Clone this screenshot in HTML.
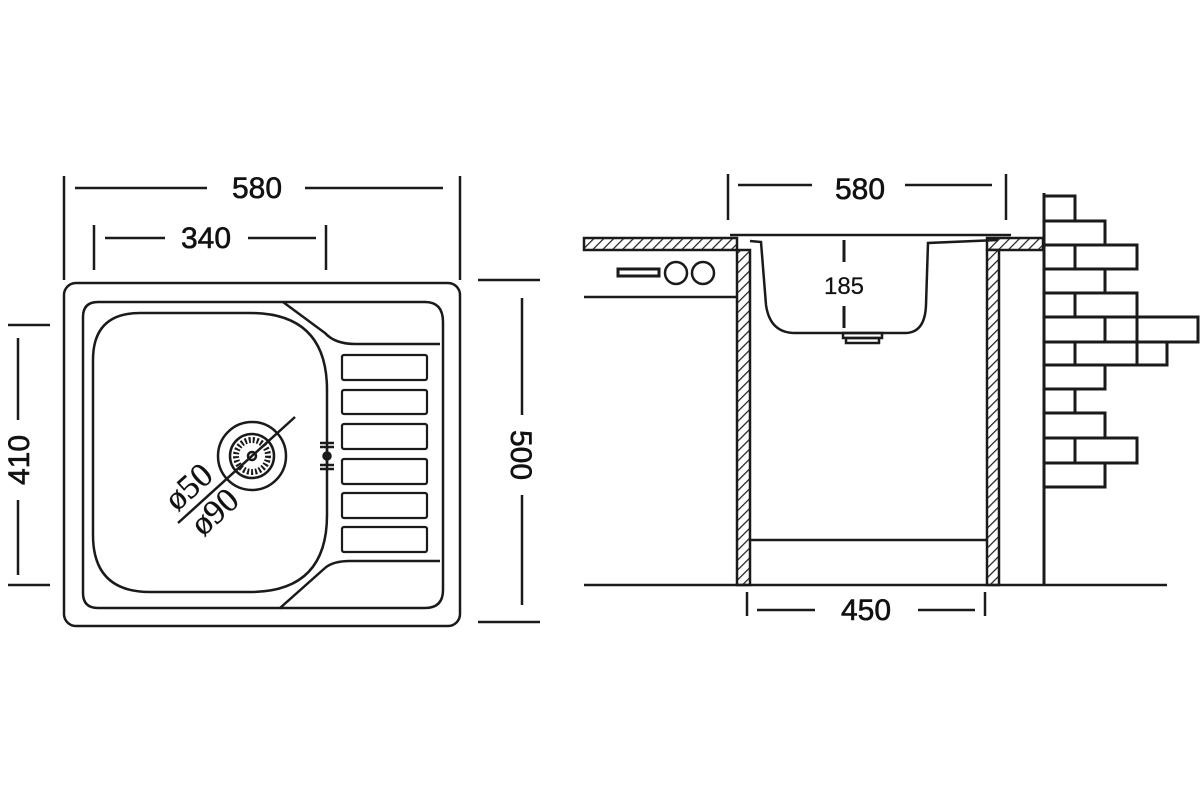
<!DOCTYPE html>
<html><head><meta charset="utf-8"><style>html,body{margin:0;padding:0;background:#fff}svg{display:block}</style></head><body>
<svg width="1200" height="800" viewBox="0 0 1200 800" xmlns="http://www.w3.org/2000/svg">
<defs>
<pattern id="h" width="7" height="7" patternUnits="userSpaceOnUse" patternTransform="rotate(45)">
<rect width="7" height="7" fill="#fff"/><line x1="0" y1="0" x2="0" y2="7" stroke="#222" stroke-width="2.5"/></pattern>
</defs>
<g fill="none" stroke="#1a1a1a" stroke-width="2.5">
<rect x="64" y="283" width="396" height="343" rx="12"/>
<path d="M283,302 L98,302 Q83,302 83,317 L83,593 Q83,608 98,608 L280,608 L325,568 Q333,561 350,561 L440,561"/>
<path d="M283,302 L425,302 Q443,302 443,322 L443,590 Q443,608 425,608 L280,608"/>
<path d="M283,302 L325,333 Q335,344 355,344 L440,344"/>
<path d="M140,313 L250,313 Q327,313 327,390 L327,515 Q327,592 250,592 L150,592 Q93,592 93,535 L93,360 Q93,313 140,313 Z"/>
<g stroke-width="2.2">
<rect x="342" y="355" width="85" height="25" rx="2"/>
<rect x="342" y="390" width="85" height="24" rx="2"/>
<rect x="342" y="424" width="85" height="25" rx="2"/>
<rect x="342" y="459" width="85" height="25" rx="2"/>
<rect x="342" y="493" width="85" height="25" rx="2"/>
<rect x="342" y="527" width="85" height="25" rx="2"/>
</g>
<circle cx="252" cy="456" r="34"/>
<circle cx="252" cy="456" r="22"/>
<circle cx="252" cy="456" r="16" stroke-width="6" stroke-dasharray="2 2"/>
<circle cx="252" cy="456" r="4"/>
<line x1="178" y1="523" x2="295" y2="417"/>
<line x1="320" y1="443" x2="334" y2="443"/><line x1="320" y1="447" x2="334" y2="447"/>
<line x1="320" y1="465" x2="334" y2="465"/><line x1="320" y1="469" x2="334" y2="469"/>
<line x1="327" y1="447" x2="327" y2="465"/>
<circle cx="327" cy="456" r="3.5" fill="#1a1a1a"/>
<line x1="64" y1="176" x2="64" y2="280"/><line x1="460" y1="176" x2="460" y2="280"/>
<line x1="75" y1="188" x2="207" y2="188"/><line x1="305" y1="188" x2="443" y2="188"/>
<line x1="94" y1="225" x2="94" y2="270"/><line x1="326" y1="225" x2="326" y2="270"/>
<line x1="105" y1="238" x2="165" y2="238"/><line x1="248" y1="238" x2="316" y2="238"/>
<line x1="8" y1="325" x2="50" y2="325"/><line x1="8" y1="585" x2="50" y2="585"/>
<line x1="18" y1="338" x2="18" y2="420"/><line x1="18" y1="500" x2="18" y2="575"/>
<line x1="478" y1="280" x2="540" y2="280"/><line x1="478" y1="622" x2="540" y2="622"/>
<line x1="522" y1="298" x2="522" y2="415"/><line x1="522" y1="495" x2="522" y2="605"/>
</g>
<g font-family="Liberation Sans, sans-serif" font-size="30" fill="#111" stroke="#111" stroke-width="0.6" text-anchor="middle">
<text x="257" y="198">580</text>
<text x="206" y="248">340</text>
<text transform="translate(29,460) rotate(-90)">410</text>
<text transform="translate(511,455) rotate(90)">500</text>
<text transform="translate(196,495) rotate(-42)" font-family="Liberation Serif, serif" font-size="34" stroke-width="0.3">ø50</text>
<text transform="translate(222,520) rotate(-42)" font-family="Liberation Serif, serif" font-size="34" stroke-width="0.3">ø90</text>
<text x="860" y="199">580</text>
<text x="866" y="620">450</text>
<text x="844" y="294" font-size="24" stroke-width="0.2">185</text>
</g>
<g stroke="#1a1a1a" stroke-width="2.5">
<rect x="584" y="238" width="153" height="12" fill="url(#h)"/>
<rect x="987" y="238" width="56" height="12" fill="url(#h)"/>
<rect x="737" y="250" width="13" height="335" fill="url(#h)"/>
<rect x="987" y="250" width="12" height="335" fill="url(#h)"/>
<g fill="none">
<line x1="730" y1="235" x2="1011" y2="235"/>
<path d="M750,241 L761,242 L766,305 Q770,333 795,333 L905,333 Q925,333 926,305 L928,243 L998,240"/>
<rect x="843" y="333" width="39" height="5"/><rect x="846" y="338" width="33" height="5"/>
<line x1="844" y1="240" x2="844" y2="262" stroke-width="3"/><line x1="844" y1="306" x2="844" y2="328" stroke-width="3"/>
<rect x="618" y="269" width="41" height="7" stroke-width="3"/>
<circle cx="676" cy="273" r="11"/><circle cx="703" cy="273" r="11"/>
<line x1="584" y1="297" x2="737" y2="297"/>
<line x1="750" y1="540" x2="987" y2="540"/>
<line x1="584" y1="585" x2="1167" y2="585"/>
<line x1="728" y1="174" x2="728" y2="220"/><line x1="1006" y1="174" x2="1006" y2="220"/>
<line x1="738" y1="185" x2="812" y2="185"/><line x1="905" y1="185" x2="992" y2="185"/>
<line x1="747" y1="592" x2="747" y2="616"/><line x1="985" y1="592" x2="985" y2="616"/>
<line x1="757" y1="610" x2="815" y2="610"/><line x1="918" y1="610" x2="975" y2="610"/>
</g>
<g fill="none" stroke-width="3">
<line x1="1044" y1="193" x2="1044" y2="585"/>
<rect x="1044" y="196" width="31" height="25"/>
<rect x="1044" y="221" width="61" height="24"/>
<rect x="1044" y="245" width="93" height="24"/><line x1="1075" y1="245" x2="1075" y2="269"/>
<rect x="1044" y="269" width="61" height="24"/>
<rect x="1044" y="293" width="93" height="24"/><line x1="1075" y1="293" x2="1075" y2="317"/>
<rect x="1044" y="317" width="154" height="25"/><line x1="1105" y1="317" x2="1105" y2="342"/><line x1="1137" y1="317" x2="1137" y2="342"/>
<rect x="1044" y="342" width="123" height="23"/><line x1="1075" y1="342" x2="1075" y2="365"/><line x1="1137" y1="342" x2="1137" y2="365"/>
<rect x="1044" y="365" width="61" height="24"/>
<rect x="1044" y="389" width="31" height="24"/>
<rect x="1044" y="413" width="61" height="25"/>
<rect x="1044" y="438" width="93" height="25"/><line x1="1075" y1="438" x2="1075" y2="463"/>
<rect x="1044" y="463" width="61" height="24"/>
</g>
</g>
</svg>
</body></html>
